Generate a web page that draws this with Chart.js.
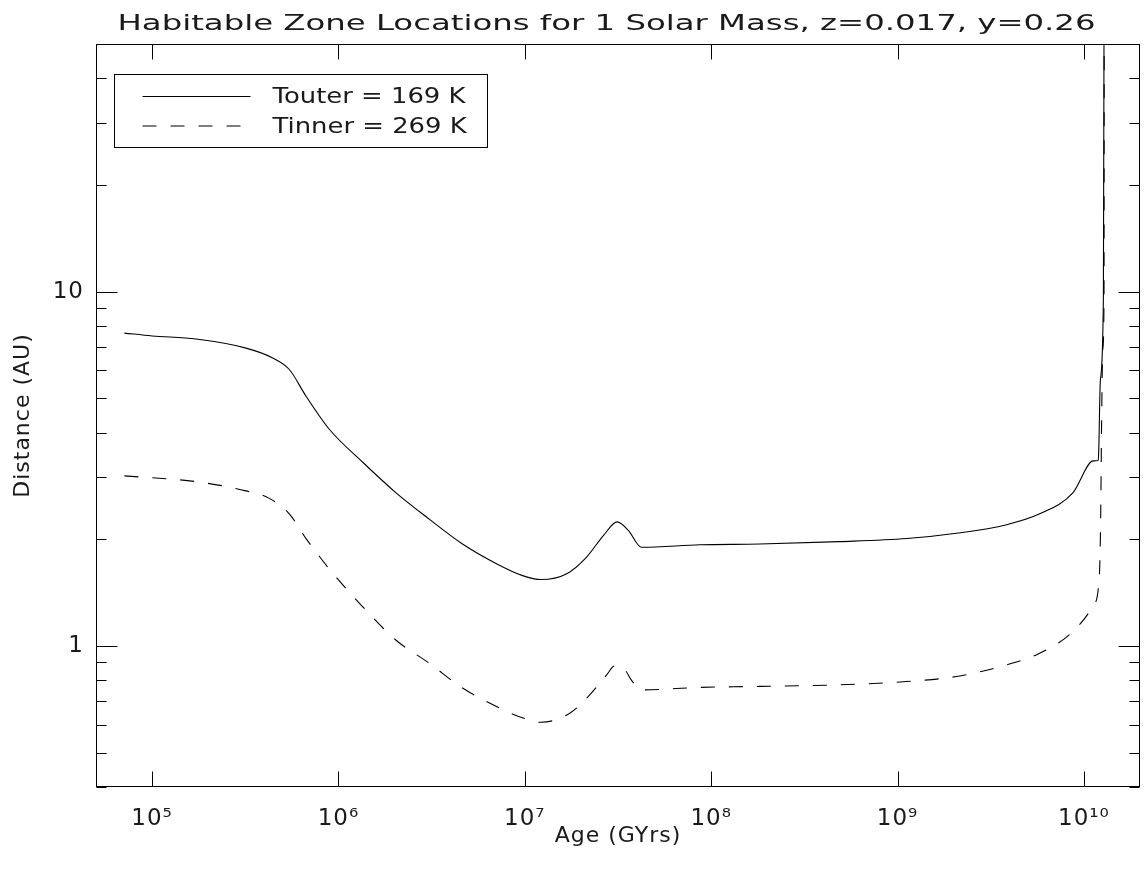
<!DOCTYPE html>
<html>
<head>
<meta charset="utf-8">
<script src="https://cdn.jsdelivr.net/npm/chart.js@4.4.1/dist/chart.umd.min.js"></script>
<style>
  html, body { margin: 0; padding: 0; background: #fff; }
</style>
</head>
<body>
<canvas id="hzChart" width="1146" height="871"></canvas>
<script>
// text
const titleText = 'Habitable Zone Locations for 1 Solar Mass, z=0.017, y=0.26';
const xAxisLabel = 'Age (GYrs)';
const yAxisLabel = 'Distance (AU)';
const seriesLabels = ['Touter = 169 K', 'Tinner = 269 K'];

// outer edge (solid)
const outerAge = [7.1e4, 1.0e5, 1.72e5, 3.19e5, 4.44e5, 5.45e5, 6.7e5, 8.93e5, 1.35e6, 2.03e6,
  3.07e6, 4.63e6, 7.0e6, 9.73e6, 1.22e7, 1.68e7, 2.14e7, 2.64e7, 3.13e7, 3.59e7,
  4.23e7, 8.69e7, 1.82e8, 4.9e8, 1.12e9, 2.07e9, 3.85e9, 5.79e9, 8.75e9, 1.122e10,
  1.194e10, 1.202e10, 1.225e10, 1.272e10, 1.282e10];
const outerDist = [7.64, 7.5, 7.35, 6.93, 6.50, 6.03, 5.07, 4.09, 3.30, 2.71,
  2.28, 1.94, 1.71, 1.58, 1.54, 1.60, 1.78, 2.05, 2.24, 2.12,
  1.90, 1.93, 1.94, 1.97, 2.01, 2.08, 2.20, 2.36, 2.71, 3.33,
  3.34, 3.6, 5.6, 9.5, 55];

// inner edge (dashed)
const innerAge = [7.1e4, 1.72e5, 3.19e5, 4.26e5, 5.45e5, 6.7e5, 8.93e5, 1.35e6, 2.03e6, 3.07e6,
  4.63e6, 7.0e6, 9.73e6, 1.22e7, 1.75e7, 2.23e7, 2.75e7, 3.04e7, 3.44e7, 3.74e7,
  4.23e7, 8.69e7, 1.82e8, 4.9e8, 1.12e9, 2.07e9, 3.85e9, 5.79e9, 8.75e9, 1.122e10,
  1.208e10, 1.23e10, 1.245e10, 1.263e10, 1.282e10, 1.285e10];
const innerDist = [3.02, 2.91, 2.74, 2.61, 2.36, 2.01, 1.65, 1.29, 1.04, 0.894,
  0.761, 0.676, 0.627, 0.609, 0.647, 0.728, 0.829, 0.879, 0.857, 0.80,
  0.752, 0.764, 0.769, 0.777, 0.794, 0.820, 0.885, 0.954, 1.10, 1.30,
  1.55, 2.28, 4.36, 6.9, 9.5, 55];

// axes
const xTicks = [1e5, 1e6, 1e7, 1e8, 1e9, 1e10];
const xTickLabels = ['10\u2075', '10\u2076', '10\u2077', '10\u2078', '10\u2079', '10\u00b9\u2070'];
const yTicks = [0.4, 0.5, 0.6, 0.7, 0.8, 0.9, 1, 2, 3, 4, 5, 6, 7, 8, 9, 10, 20, 30, 40, 50];
const yLabelled = [1, 10];

const FONT = "'DejaVu Sans', sans-serif";
const INK = '#1a1a1a';

// draw text stretched sideways (the plot font is very wide)
function stretchText(ctx, text, x, y, sx) {
  ctx.save();
  ctx.translate(x, y);
  ctx.scale(sx, 1);
  ctx.fillText(text, 0, 0);
  ctx.restore();
}

// IDL-style frame: box, inward ticks on all four sides, title and legend
const framePlugin = {
  id: 'frame',
  beforeDraw(chart) {
    chart.ctx.letterSpacing = '1px';
  },
  afterDraw(chart) {
    const { ctx, chartArea, scales } = chart;
    const L = Math.round(chartArea.left) + 0.5;
    const R = Math.round(chartArea.right) - 0.5;
    const T = Math.round(chartArea.top) + 0.5;
    const B = Math.round(chartArea.bottom) - 0.5;

    ctx.save();
    ctx.strokeStyle = '#000';
    ctx.lineWidth = 1;
    ctx.setLineDash([]);
    ctx.strokeRect(L, T, R - L, B - T);

    ctx.beginPath();
    scales.x.ticks.forEach(t => {
      const px = Math.round(scales.x.getPixelForValue(t.value)) + 0.5;
      ctx.moveTo(px, B); ctx.lineTo(px, B - 15);
      ctx.moveTo(px, T); ctx.lineTo(px, T + 15);
    });
    scales.y.ticks.forEach(t => {
      const py = Math.round(scales.y.getPixelForValue(t.value)) + 0.5;
      const len = yLabelled.includes(t.value) ? 21 : 10;
      ctx.moveTo(L, py); ctx.lineTo(L + len, py);
      ctx.moveTo(R, py); ctx.lineTo(R - len, py);
    });
    ctx.stroke();

    // title
    ctx.fillStyle = INK;
    ctx.font = '21px ' + FONT;
    ctx.textBaseline = 'alphabetic';
    ctx.textAlign = 'left';
    ctx.letterSpacing = '0px';
    const tw = ctx.measureText(titleText).width;
    stretchText(ctx, titleText, L + 21, 30, 978 / tw);

    // legend box
    const bx = L + 18, by = T + 30;
    ctx.strokeRect(bx, by, 373, 73);
    ctx.font = '22px ' + FONT;
    const lsx = 193 / ctx.measureText(seriesLabels[0]).width;
    chart.data.datasets.forEach((ds, i) => {
      const ly = by + 22 + i * 29.5;
      ctx.beginPath();
      ctx.setLineDash(ds.borderDash || []);
      ctx.lineWidth = 1;
      ctx.moveTo(bx + 28, ly);
      ctx.lineTo(bx + (ds.borderDash ? 126 : 136), ly);
      ctx.stroke();
      stretchText(ctx, ds.label, bx + 158, ly + 6.5, lsx);
    });
    ctx.restore();
  }
};

const ctx = document.getElementById('hzChart').getContext('2d');
const chart = new Chart(ctx, {
  type: 'line',
  data: {
    datasets: [
      {
        label: seriesLabels[0],
        data: outerAge.map((a, i) => ({ x: a, y: outerDist[i] })),
        borderColor: '#000',
        borderWidth: 1.1,
        pointRadius: 0,
        cubicInterpolationMode: 'monotone',
        fill: false
      },
      {
        label: seriesLabels[1],
        data: innerAge.map((a, i) => ({ x: a, y: innerDist[i] })),
        borderColor: '#000',
        borderWidth: 1.1,
        borderDash: [14, 14],
        pointRadius: 0,
        cubicInterpolationMode: 'monotone',
        fill: false
      }
    ]
  },
  options: {
    responsive: false,
    animation: false,
    devicePixelRatio: 1,
    layout: { padding: { top: 44, right: 6, left: 0, bottom: 0 } },
    plugins: {
      legend: { display: false },
      tooltip: { enabled: false },
      title: { display: false }
    },
    scales: {
      x: {
        type: 'logarithmic',
        min: 5e4,
        max: 2e10,
        afterBuildTicks: s => { s.ticks = xTicks.map(v => ({ value: v })); },
        afterFit: s => { s.height = 84; },
        grid: { display: false, drawTicks: false },
        border: { display: false },
        ticks: {
          autoSkip: false,
          maxRotation: 0,
          padding: 18,
          color: INK,
          font: { family: FONT, size: 23 },
          callback: (v, i) => xTickLabels[i]
        },
        title: {
          display: true,
          text: xAxisLabel,
          color: INK,
          font: { family: FONT, size: 22 },
          padding: { top: 0, bottom: 22 }
        }
      },
      y: {
        type: 'logarithmic',
        min: 0.4,
        max: 50,
        afterBuildTicks: s => { s.ticks = yTicks.map(v => ({ value: v })); },
        afterFit: s => { s.width = 96; },
        grid: { display: false, drawTicks: false },
        border: { display: false },
        ticks: {
          autoSkip: false,
          padding: 12,
          color: INK,
          font: { family: FONT, size: 23 },
          callback: (v, i) => yLabelled.includes(yTicks[i]) ? String(yTicks[i]) : ''
        },
        title: {
          display: true,
          text: yAxisLabel,
          color: INK,
          font: { family: FONT, size: 22 },
          padding: { top: 10, bottom: 0 }
        }
      }
    }
  },
  plugins: [framePlugin]
});
</script>
</body>
</html>
